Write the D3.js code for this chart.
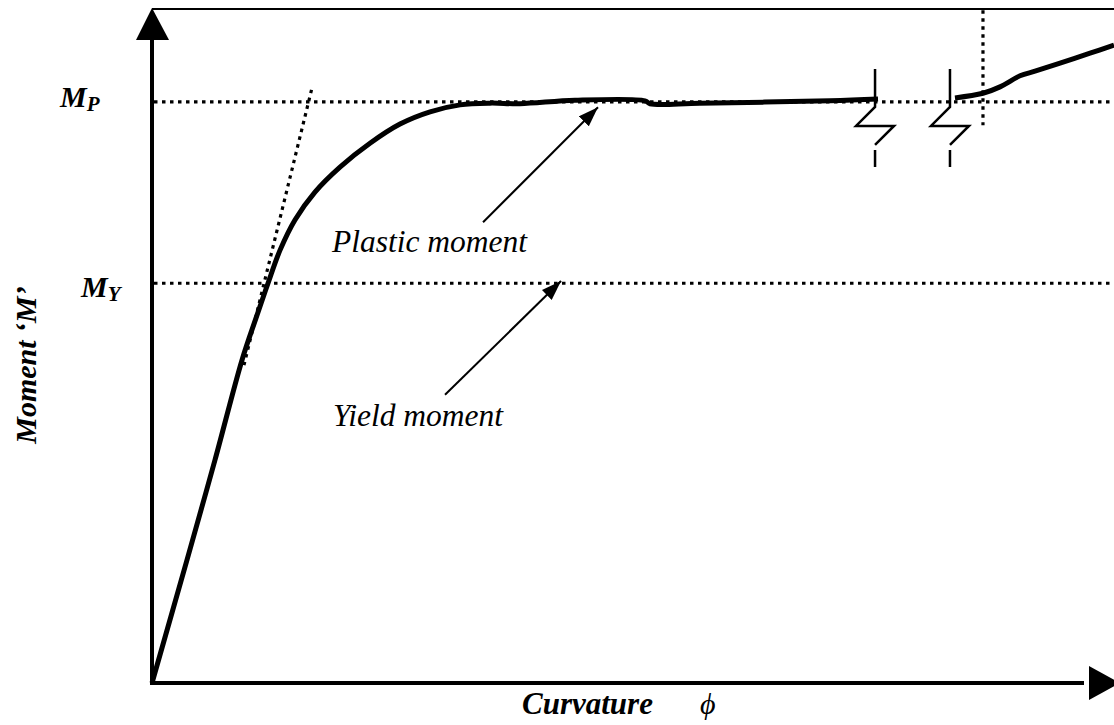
<!DOCTYPE html>
<html>
<head>
<meta charset="utf-8">
<script src="https://cdn.jsdelivr.net/npm/d3@7"></script>
<style>
	body { margin: 0; background: #fff; }
	svg { display: block; }
	text { font-family: "Liberation Serif", "Times New Roman", serif; fill: #000; }
</style>
</head>
<body>
<svg id="svg1"></svg>
<script>
// curvature (phi) and moment values, moment normalised so that M_P = 1
phi_main = [0, 0.364, 0.655, 0.936, 1.081, 1.206, 1.331, 1.486, 1.694, 1.954, 2.266, 2.578, 2.890, 3.202, 3.514, 3.825, 4.397, 5.125, 5.177, 5.696, 7.048, 7.547];
moment_main = [0, 0.212, 0.384, 0.556, 0.628, 0.688, 0.745, 0.797, 0.845, 0.888, 0.929, 0.962, 0.983, 0.995, 0.998, 0.997, 1.003, 1.002, 0.997, 0.998, 1.002, 1.005];

// part of the curve after the axis break (strain hardening)
phi_tail = [8.347, 8.638, 8.815, 9.023, 9.179, 9.439, 9.751, 10.0];
moment_tail = [1.007, 1.015, 1.026, 1.045, 1.053, 1.067, 1.084, 1.098];

// initial elastic slope (dotted tangent)
phi_tangent = [0.956, 1.663];
moment_tangent = [0.547, 1.024];

M_P = 1.0;
M_Y = 0.688;

// start of strain hardening (vertical dotted line)
phi_sh = 8.638;
moment_sh = [0.960, 1.158];

// break marks on the curvature axis
phi_breaks = [7.516, 8.295];

annotations = ["Plastic moment", "Yield moment"];
annotation_from = [[3.441, 0.793], [3.046, 0.496]];
annotation_to = [[4.636, 0.991], [4.252, 0.692]];
annotation_text_at = [[1.871, 0.742], [1.882, 0.442]];

x_label = "Curvature";
y_label = "Moment \u2018M\u2019";

settings = {
	width: 1114,
	height: 725,
	left: 152,
	top: 9,
	bottom: 683
}

var x = d3.scaleLinear().domain([0, 10]).range([settings.left, settings.width]);
var y = d3.scaleLinear().domain([0, 1.16]).range([settings.bottom, settings.top]);

svg = d3.select("#svg1")
	.attr("width", settings.width)
	.attr("height", settings.height)

var line = d3.line().x(d => x(d[0])).y(d => y(d[1]));
var smooth = d3.line().x(d => x(d[0])).y(d => y(d[1])).curve(d3.curveCatmullRom.alpha(0.5));

// arrow head for the annotations
svg.append("defs").append("marker")
	.attr("id", "head")
	.attr("markerUnits", "userSpaceOnUse")
	.attr("viewBox", "0 0 20 14")
	.attr("refX", 20).attr("refY", 7)
	.attr("markerWidth", 20).attr("markerHeight", 14)
	.attr("orient", "auto")
	.append("path").attr("d", "M0,0 L20,7 L0,14 Z").attr("fill", "#000");

// top frame line
svg.append("line")
	.attr("x1", x(0)).attr("x2", settings.width)
	.attr("y1", y(1.16)).attr("y2", y(1.16))
	.attr("stroke", "#000").attr("stroke-width", 2);

// dotted reference lines
dotted = g => g.attr("stroke", "#000").attr("stroke-width", 3.2).attr("stroke-dasharray", "3.5,4.5").attr("fill", "none");

[M_P, M_Y].forEach(function(m) {
	svg.append("line")
		.attr("x1", x(0) + 2).attr("x2", settings.width)
		.attr("y1", y(m)).attr("y2", y(m))
		.call(dotted);
});

svg.append("line")
	.attr("x1", x(phi_sh)).attr("x2", x(phi_sh))
	.attr("y1", y(moment_sh[1])).attr("y2", y(moment_sh[0]))
	.call(dotted);

svg.append("path")
	.attr("d", line(d3.zip(phi_tangent, moment_tangent)))
	.call(dotted);

// moment-curvature curve
[[phi_main, moment_main], [phi_tail, moment_tail]].forEach(function(s) {
	svg.append("path")
		.attr("d", smooth(d3.zip(s[0], s[1])))
		.attr("fill", "none")
		.attr("stroke", "#000")
		.attr("stroke-width", 5)
		.attr("stroke-linecap", "butt")
		.attr("stroke-linejoin", "round");
});

// break symbols
phi_breaks.forEach(function(b) {
	var bx = x(b), by = y(M_P);
	svg.append("path")
		.attr("d", "M" + bx + "," + (by - 33) + " L" + bx + "," + (by + 5)
			+ " L" + (bx - 19) + "," + (by + 24) + " L" + (bx + 19) + "," + (by + 24)
			+ " L" + bx + "," + (by + 43)
			+ " M" + bx + "," + (by + 48) + " L" + bx + "," + (by + 65))
		.attr("fill", "none")
		.attr("stroke", "#000")
		.attr("stroke-width", 2.5);
});

// axes
svg.append("line")
	.attr("x1", x(0)).attr("x2", x(0))
	.attr("y1", y(0) + 2).attr("y2", y(1.16) + 25)
	.attr("stroke", "#000").attr("stroke-width", 4);
svg.append("path")
	.attr("d", "M" + x(0) + "," + (y(1.16) - 1) + " L" + (x(0) - 16) + "," + (y(1.16) + 31) + " L" + (x(0) + 17) + "," + (y(1.16) + 31) + " Z")
	.attr("fill", "#000");

svg.append("line")
	.attr("x1", x(0) - 2).attr("x2", settings.width - 30)
	.attr("y1", y(0)).attr("y2", y(0))
	.attr("stroke", "#000").attr("stroke-width", 4);
svg.append("path")
	.attr("d", "M" + (settings.width + 6) + "," + y(0) + " L" + (settings.width - 25) + "," + (y(0) - 17) + " L" + (settings.width - 25) + "," + (y(0) + 17) + " Z")
	.attr("fill", "#000");

// annotations
annotations.forEach(function(t, i) {
	svg.append("line")
		.attr("x1", x(annotation_from[i][0])).attr("y1", y(annotation_from[i][1]))
		.attr("x2", x(annotation_to[i][0])).attr("y2", y(annotation_to[i][1]))
		.attr("stroke", "#000").attr("stroke-width", 2)
		.attr("marker-end", "url(#head)");
	svg.append("text")
		.attr("x", x(annotation_text_at[i][0]))
		.attr("y", y(annotation_text_at[i][1]))
		.style("font-size", "31.5px")
		.style("font-style", "italic")
		.text(t);
});

// level labels M_P and M_Y
function level_label(sub, m, dx, dy) {
	var t = svg.append("text")
		.attr("x", x(0) - dx)
		.attr("y", y(m) + dy)
		.style("font-size", "30px")
		.style("font-style", "italic")
		.style("font-weight", "bold");
	t.append("tspan").text("M");
	t.append("tspan").attr("dy", 4).style("font-size", "21px").text(sub);
}
level_label("P", M_P, 92, 5);
level_label("Y", M_Y, 71, 14);

// axis titles
svg.append("text")
	.attr("transform", "translate(36,365) rotate(-90)")
	.attr("text-anchor", "middle")
	.style("font-size", "30px")
	.style("font-style", "italic")
	.style("font-weight", "bold")
	.text(y_label);

svg.append("text")
	.attr("x", 522).attr("y", 714)
	.style("font-size", "31px")
	.style("font-style", "italic")
	.style("font-weight", "bold")
	.text(x_label);

svg.append("text")
	.attr("x", 700).attr("y", 714)
	.style("font-size", "30px")
	.style("font-style", "italic")
	.text("\u03D5");
</script>
</body>
</html>
